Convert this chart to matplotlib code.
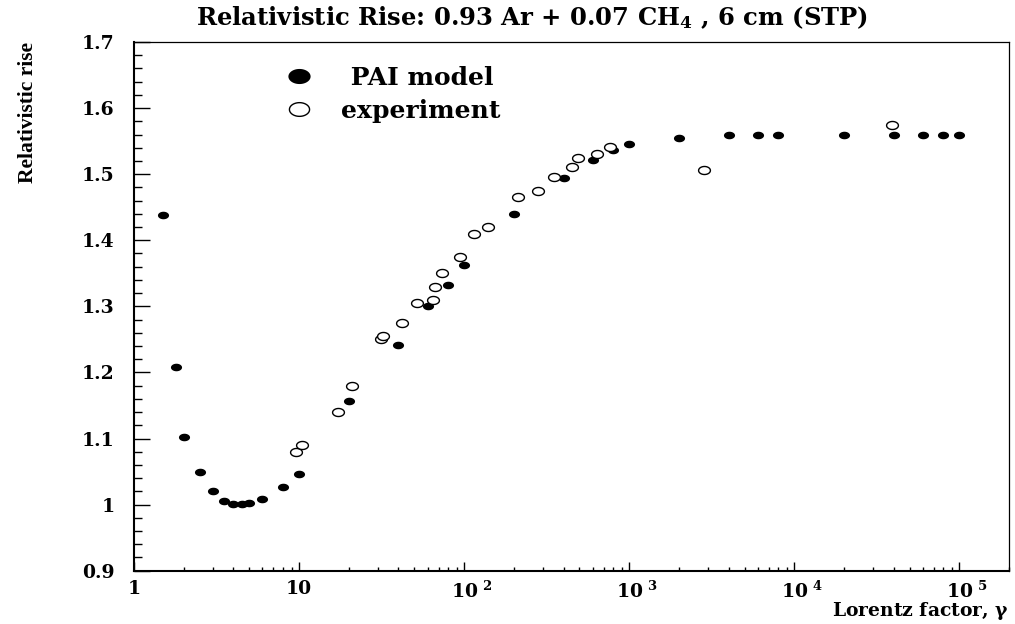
import numpy as np
import matplotlib
matplotlib.use('Agg')
import matplotlib.pyplot as plt
from matplotlib.path import Path
from matplotlib.lines import Line2D
from matplotlib.ticker import FixedLocator, LogLocator, MultipleLocator, FuncFormatter, NullFormatter

plt.rcParams.update({
    'font.family': 'DejaVu Serif',
    'font.weight': 'bold',
    'axes.labelweight': 'bold',
    'mathtext.fontset': 'custom',
    'mathtext.rm': 'DejaVu Serif:bold',
    'mathtext.bf': 'DejaVu Serif:bold',
    'mathtext.it': 'DejaVu Serif',
})

# PAI model (filled)
pai_gamma = [1.5, 1.8, 2, 2.5, 3, 3.5, 4, 4.5, 5, 6, 8, 10, 20, 40, 60, 80, 100,
             200, 400, 600, 800, 1000, 2000, 4000, 6000, 8000,
             2e4, 4e4, 6e4, 8e4, 1e5]
pai_rise = [1.438, 1.208, 1.102, 1.050, 1.020, 1.005, 1.001, 1.001, 1.003, 1.008,
            1.026, 1.047, 1.157, 1.242, 1.301, 1.332, 1.363,
            1.440, 1.494, 1.521, 1.537, 1.545, 1.555, 1.560, 1.560, 1.560,
            1.560, 1.560, 1.560, 1.560, 1.560]

# experiment (open)
exp_gamma = [9.6, 10.4, 17.1, 20.8, 31.3, 32.4, 41.9, 51.8, 64.6, 66.4, 73.3, 93.8,
             114.8, 139.9, 211, 281, 349, 451, 490, 635, 769, 2845, 38900]
exp_rise = [1.080, 1.090, 1.140, 1.180, 1.250, 1.255, 1.275, 1.305, 1.310, 1.330,
            1.350, 1.375, 1.410, 1.420, 1.466, 1.475, 1.495, 1.511, 1.525, 1.531,
            1.541, 1.506, 1.575]

y_ticks = [0.9, 1.0, 1.1, 1.2, 1.3, 1.4, 1.5, 1.6, 1.7]
x_ticks = [1, 10, 1e2, 1e3, 1e4, 1e5]

# the picture is stretched sideways, so markers are ellipses
t = np.linspace(0, 2 * np.pi, 60)
ell = Path(np.column_stack([np.cos(t), 0.68 * np.sin(t)]), closed=True)

fig = plt.figure(figsize=(10.15, 6.24), dpi=100)
ax = fig.add_axes([134 / 1015, 1 - 570.7 / 624, 875 / 1015, (570.7 - 42) / 624])

ax.plot(pai_gamma, pai_rise, ls='none', marker=ell, ms=8, color='black', mew=0)
ax.plot(exp_gamma, exp_rise, ls='none', marker=ell, ms=8.5, mfc='white', mec='black', mew=1.0)

ax.set_xscale('log')
ax.set_xlim(1, 2e5)
ax.set_ylim(0.9, 1.7)

ax.xaxis.set_major_locator(FixedLocator(x_ticks))
ax.xaxis.set_minor_locator(LogLocator(base=10, subs=np.arange(2, 10), numticks=20))
ax.xaxis.set_minor_formatter(NullFormatter())


def xfmt(v, pos):
    e = int(round(np.log10(v)))
    if e == 0:
        return '1'
    if e == 1:
        return '10'
    return r'$\hspace{0.85}10^{\ %d}$' % e


ax.xaxis.set_major_formatter(FuncFormatter(xfmt))
ax.yaxis.set_major_locator(FixedLocator(y_ticks))
ax.yaxis.set_minor_locator(MultipleLocator(0.02))
ax.yaxis.set_major_formatter(FuncFormatter(lambda v, p: '%g' % round(v, 2)))

ax.tick_params(axis='both', which='both', direction='in', top=False, right=False, width=1)
ax.tick_params(axis='x', which='major', length=6.5, pad=7, labelsize=13.5)
ax.tick_params(axis='x', which='minor', length=3.2)
ax.tick_params(axis='y', which='major', length=11.5, pad=14, labelsize=13.5)
ax.tick_params(axis='y', which='minor', length=5.8)

for s in ['left', 'bottom']:
    ax.spines[s].set_linewidth(1.5)
for s in ['top', 'right']:
    ax.spines[s].set_linewidth(0.9)

ax.set_ylabel('Relativistic rise', loc='top', fontsize=15.5, family='Liberation Serif', fontweight='bold')
ax.yaxis.set_label_coords(-0.11, 1.0)
ax.set_xlabel(r'Lorentz factor, $\gamma$', loc='right', fontsize=13.5)
ax.xaxis.set_label_coords(1.0, -0.056)

fig.text(0.524, 0.972, r'Relativistic Rise: 0.93 Ar + 0.07 CH$_{4}$ , 6 cm (STP)',
         ha='center', va='center', fontsize=17.5)

handles = [Line2D([], [], ls='none', marker=ell, ms=16, color='black', mew=0),
           Line2D([], [], ls='none', marker=ell, ms=14.5, mfc='white', mec='black', mew=1.0)]
ax.legend(handles, [' PAI model', 'experiment'], loc='upper left',
          bbox_to_anchor=(284 / 1015, 1 - 66 / 624), bbox_transform=fig.transFigure,
          frameon=False, fontsize=18, borderpad=0, borderaxespad=0,
          handlelength=1.2, handletextpad=1.1, labelspacing=0.35)

fig.savefig('out.png', dpi=100)
